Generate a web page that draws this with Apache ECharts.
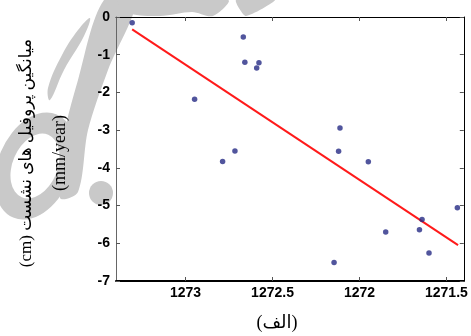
<!DOCTYPE html>
<html>
<head>
<meta charset="utf-8">
<script src="https://cdn.jsdelivr.net/npm/echarts@6/dist/echarts.min.js"></script>
<style>
html,body{margin:0;padding:0;background:#fff;}
#chart{width:471px;height:336px;background:#fff;}
</style>
</head>
<body>
<div id="chart"></div>
<script>
// Data
var xValues = [1273.307, 1272.948, 1272.787, 1272.716, 1272.668, 1272.659, 1272.591, 1272.578,
               1272.146, 1272.120, 1272.112, 1271.949, 1271.849, 1271.655, 1271.640, 1271.600, 1271.437];
var yValues = [-0.15, -2.18, -3.83, -3.55, -0.53, -1.20, -1.35, -1.21,
               -6.51, -3.56, -2.94, -3.84, -5.70, -5.64, -5.37, -6.26, -5.06];
var fitX = [1273.307, 1271.433];
var fitY = [-0.33, -6.05];
var xTicks = [1271.5, 1272, 1272.5, 1273];
var yTitleLine1 = '(cm) میانگین پروفیل های نشست';
var yTitleLine2 = '(mm/year)';
var xTitle = '(الف)';

var points = xValues.map(function (x, i) { return [x, yValues[i]]; });
var fitLine = fitX.map(function (x, i) { return [x, fitY[i]]; });

var chart = echarts.init(document.getElementById('chart'), null, {renderer: 'canvas'});
var labelFont = {fontFamily: 'Liberation Sans, Arial, sans-serif', fontWeight: 'bold', fontSize: 14, color: '#000'};
function plain(v) { return String(v); }
var wm = '#c9c9c9';
chart.setOption({
  animation: false,
  grid: {left: 116, right: 7, top: 17, bottom: 55, containLabel: false},
  xAxis: [{
    type: 'value', inverse: true, min: 1271.4, max: 1273.4, z: 5,
    axisLine: {show: true, onZero: false, lineStyle: {color: '#000', width: 2}},
    axisTick: {show: true, inside: true, length: 4, customValues: xTicks, lineStyle: {color: '#555'}},
    axisLabel: Object.assign({customValues: xTicks, margin: 5, formatter: plain}, labelFont),
    splitLine: {show: false}
  }, {
    type: 'value', inverse: true, min: 1271.4, max: 1273.4, position: 'top', z: 5,
    axisLine: {show: true, onZero: false, lineStyle: {color: '#000', width: 1}},
    axisTick: {show: true, inside: true, length: 4, customValues: xTicks, lineStyle: {color: '#555'}},
    axisLabel: {show: false, customValues: xTicks},
    splitLine: {show: false}
  }],
  yAxis: [{
    type: 'value', min: -7, max: 0, interval: 1, z: 5,
    axisLine: {show: true, onZero: false, lineStyle: {color: '#666', width: 1}},
    axisTick: {show: true, inside: true, length: 4, lineStyle: {color: '#555'}},
    axisLabel: Object.assign({margin: 6, formatter: plain}, labelFont),
    splitLine: {show: false}
  }, {
    type: 'value', min: -7, max: 0, interval: 1, position: 'right', z: 5,
    axisLine: {show: true, onZero: false, lineStyle: {color: '#000', width: 1}},
    axisTick: {show: true, inside: true, length: 4, lineStyle: {color: '#555'}},
    axisLabel: {show: false},
    splitLine: {show: false}
  }],
  series: [{
    type: 'line', data: fitLine, xAxisIndex: 0, yAxisIndex: 0,
    showSymbol: false, symbol: 'none',
    lineStyle: {color: '#ff1a1a', width: 2}, z: 6
  }, {
    type: 'scatter', data: points, xAxisIndex: 0, yAxisIndex: 0,
    symbol: 'circle', symbolSize: 5.5,
    itemStyle: {color: '#262a85'}, z: 7
  }],
  graphic: {
    elements: [
      // decorative watermark: italic "o" ring, "f" strokes, top swooshes
      {type: 'ring', z: 1, silent: true, x: 35, y: 166, rotation: -0.4, scaleX: 0.66, scaleY: 1,
       shape: {cx: 0, cy: 0, r: 56, r0: 34}, style: {fill: wm}},
      {type: 'polygon', z: 1, silent: true,
       shape: {points: [[104, 0], [136, 0], [108, 70], [88, 130], [78, 192], [60, 198], [62, 145], [78, 80]], smooth: 0.3},
       style: {fill: wm}},
      {type: 'polygon', z: 1, silent: true,
       shape: {points: [[90, 18], [84, 36], [64, 70], [50, 100], [48, 88], [62, 55], [78, 30]], smooth: 0.4},
       style: {fill: wm}},
      {type: 'circle', z: 1, silent: true, x: 101, y: 193, shape: {cx: 0, cy: 0, r: 12}, style: {fill: wm}},
      {type: 'polygon', z: 1, silent: true,
       shape: {points: [[118, 0], [228, 0], [213, 16], [192, 12], [160, 16], [128, 13]], smooth: 0.3},
       style: {fill: wm}},
      {type: 'polygon', z: 1, silent: true,
       shape: {points: [[236, 0], [275, 0], [246, 16]], smooth: 0.2},
       style: {fill: wm}},
      // titles
      {type: 'text', x: 27, y: 153, rotation: Math.PI / 2, z: 50,
       style: {text: yTitleLine1, font: '17px "Liberation Serif", "DejaVu Sans", serif', fill: '#000',
               textAlign: 'center', textVerticalAlign: 'middle'}},
      {type: 'text', x: 60, y: 153, rotation: Math.PI / 2, z: 50,
       style: {text: yTitleLine2, font: '18px "Liberation Serif", serif', fill: '#000',
               textAlign: 'center', textVerticalAlign: 'middle'}},
      {type: 'text', x: 277, y: 323, z: 50,
       style: {text: xTitle, font: '18px "Liberation Serif", "DejaVu Sans", serif', fill: '#000',
               textAlign: 'center', textVerticalAlign: 'middle'}}
    ]
  }
});
</script>
</body>
</html>
